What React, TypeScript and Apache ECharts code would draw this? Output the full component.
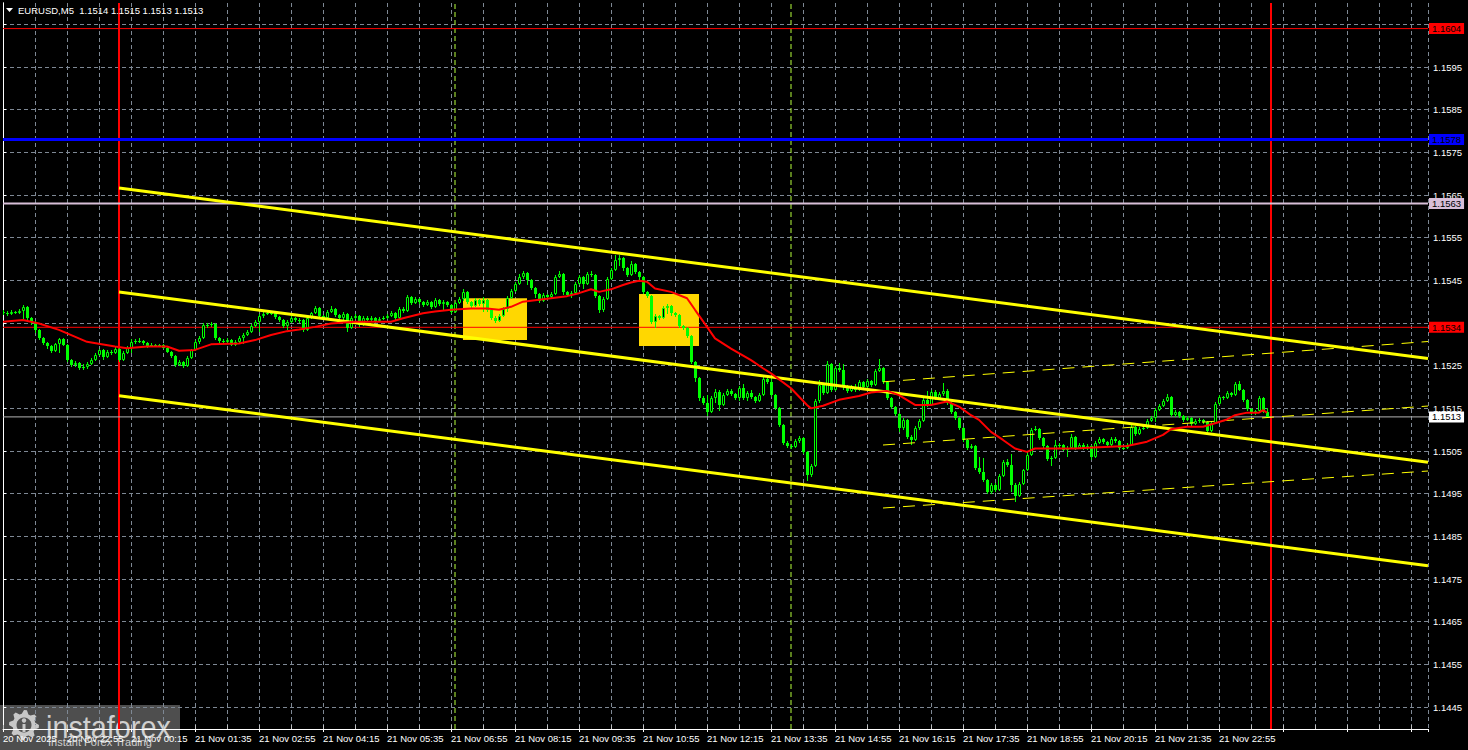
import React, { useEffect, useRef } from "react";
import * as echarts from "echarts";

// ---------- DATA (prices in pips relative to 1.1500) ----------
const BASE = 1.15;
const PIP = 0.0001;
// bar 0 = 20 Nov 21:35, M5 bars
const FIRST_OPEN = 37.5;
const closes = [
  37.3,37.1,37.6,37.3,37.8,38.7,36.2,35.2,33.4,31.5,
  30.3,29.6,28.4,30.1,31.3,29.9,26.3,25.2,25.6,24.5,
  24.7,25.4,26.3,27.5,28.7,27.0,28.2,28.0,28.9,26.3,
  28.0,29.1,30.6,30.8,30.8,30.3,29.6,29.9,29.6,29.9,
  29.1,28.2,27.3,25.2,25.9,24.9,26.8,28.7,30.6,31.5,
  34.5,34.5,34.8,31.5,30.8,30.6,31.0,29.9,30.6,31.5,
  32.2,32.9,34.3,35.2,36.6,37.1,37.3,37.3,36.4,35.7,
  34.3,35.2,36.2,35.7,35.7,33.4,36.2,37.3,38.5,36.6,
  36.2,37.6,38.3,36.9,36.2,37.1,33.8,36.2,36.6,34.5,
  36.2,35.7,36.2,35.5,35.9,36.2,36.6,37.3,36.2,38.3,
  37.8,41.1,39.7,40.6,39.9,39.2,39.9,38.8,40.4,39.4,
  39.9,39.2,37.6,39.7,40.6,42.3,39.9,39.0,40.4,39.4,
  40.4,38.0,36.2,35.5,36.6,38.3,40.9,42.5,44.1,45.8,
  46.7,45.1,43.2,41.8,40.2,41.6,41.1,41.8,45.8,46.5,
  42.3,41.6,42.0,44.1,45.8,44.1,46.5,46.2,41.3,38.0,
  40.6,45.4,47.4,49.8,50.2,47.9,46.2,48.8,46.9,45.8,
  42.3,41.3,35.2,36.6,36.2,38.5,39.0,37.3,36.9,34.3,
  33.8,32.0,25.9,22.1,17.4,16.3,14.1,17.4,18.8,15.8,
  18.1,19.1,18.4,17.4,19.8,17.4,18.6,17.7,16.7,18.1,
  21.9,21.2,18.1,15.1,11.1,6.9,6.2,5.9,7.4,8.1,
  4.8,-0.6,1.5,16.7,20.5,18.6,25.4,19.3,24.5,24.0,
  20.2,19.1,20.0,19.3,21.2,20.0,21.4,20.5,23.8,24.5,
  21.2,17.4,15.3,13.7,10.4,12.3,8.3,7.6,10.4,12.0,
  17.0,15.8,18.8,17.4,18.4,19.1,16.3,14.1,12.7,10.4,
  7.6,5.7,6.2,1.0,0.1,-1.8,-4.6,-2.9,-4.1,-0.8,
  2.4,1.7,-2.9,-5.5,-2.7,0.5,4.1,9.9,10.2,8.1,
  6.2,3.1,3.4,6.4,6.4,5.3,5.7,8.3,5.7,6.4,
  5.7,6.2,3.6,6.9,7.8,7.1,6.4,7.8,7.4,5.7,
  5.7,6.4,10.6,9.0,10.2,10.4,12.0,12.7,14.6,15.6,
  16.7,17.7,13.4,14.1,13.2,12.3,12.7,11.3,12.0,12.3,
  11.8,9.7,11.6,16.0,17.7,17.4,18.6,18.1,20.7,19.3,
  17.0,14.9,13.9,14.4,17.4,14.2,13.0,
];
const highs = [
  38.0,37.8,38.0,37.9,38.2,39.2,38.9,36.5,35.5,33.6,
  31.8,30.6,29.9,30.4,31.6,31.5,30.2,26.6,26.0,25.9,
  25.3,25.8,26.7,27.9,29.0,28.9,28.6,28.7,29.6,29.1,
  28.4,29.5,31.2,31.3,31.6,31.1,30.5,30.3,30.2,30.2,
  30.1,29.3,28.5,27.5,26.3,26.1,27.2,29.0,31.0,31.9,
  35.0,35.1,35.2,35.0,31.8,31.2,31.4,31.3,31.0,31.9,
  32.6,33.3,34.7,35.6,37.0,37.9,37.7,37.8,37.5,36.7,
  36.0,35.6,36.6,36.5,36.2,36.0,36.5,37.7,39.0,38.7,
  36.9,38.0,39.0,38.5,37.2,37.6,37.3,36.7,37.2,36.8,
  36.6,36.6,36.6,36.5,36.3,36.6,37.1,37.9,37.6,38.7,
  38.8,41.6,41.4,41.0,40.9,40.2,40.3,40.2,40.8,40.7,
  40.4,40.1,39.4,40.0,41.0,42.9,42.5,40.2,40.8,40.7,
  41.0,40.6,38.2,36.6,37.0,38.7,41.3,42.9,44.5,46.4,
  47.1,47.0,45.3,43.5,42.0,42.0,41.9,42.2,46.3,47.2,
  46.7,42.6,42.5,44.5,46.3,46.0,47.0,47.3,46.5,41.5,
  41.2,45.9,47.8,50.9,51.0,50.4,48.2,49.5,49.0,47.2,
  46.0,42.6,41.5,37.2,36.9,38.9,39.5,39.3,37.6,37.1,
  34.6,34.0,32.3,26.2,22.3,17.8,18.2,17.9,19.6,19.2,
  18.6,19.6,19.5,18.7,20.2,20.8,19.0,19.3,18.0,18.6,
  22.4,22.6,22.5,18.3,15.3,11.3,7.3,6.6,7.9,8.6,
  8.3,5.0,2.0,17.2,21.6,21.0,26.1,25.7,25.0,25.6,
  25.4,20.5,20.4,20.6,21.6,21.4,21.9,21.7,24.2,26.5,
  24.8,21.4,17.7,15.6,14.0,12.7,12.5,8.8,10.9,12.5,
  17.5,19.0,19.3,19.2,18.8,21.0,19.5,16.6,14.4,13.0,
  10.7,7.9,6.7,6.5,3.5,3.3,-1.5,-2.4,-2.6,-0.4,
  2.8,3.2,4.4,-2.5,-2.3,0.9,4.5,10.5,10.8,10.5,
  8.4,6.4,3.9,7.5,7.0,6.7,6.2,9.0,8.6,6.9,
  6.8,6.7,6.5,7.3,8.2,8.1,7.4,8.2,8.4,7.6,
  6.2,6.9,11.0,10.9,10.6,10.9,12.4,13.1,15.0,16.1,
  17.1,18.3,17.9,14.6,14.4,13.5,13.1,13.0,12.4,12.8,
  12.6,12.0,12.0,16.5,18.1,18.0,19.1,18.9,21.1,21.5,
  19.5,17.2,15.2,14.7,17.9,17.7,15.0,
];
const lows = [
  36.8,36.7,36.9,37.0,37.1,36.0,35.8,34.5,32.6,31.0,
  29.9,29.0,28.0,28.2,28.0,29.5,25.8,24.6,24.8,24.0,
  24.1,24.3,25.1,26.0,27.2,26.4,26.7,27.6,27.7,25.9,
  26.0,27.7,28.0,30.2,30.4,29.9,29.2,29.4,29.3,29.4,
  28.8,27.9,26.9,24.8,24.9,24.4,24.7,26.5,28.4,30.2,
  31.3,33.9,34.0,31.0,30.4,30.2,30.4,29.6,29.6,30.3,
  30.0,31.9,32.6,34.0,33.0,36.2,36.9,36.9,36.0,35.3,
  33.9,33.3,34.9,35.2,35.0,33.0,33.2,36.0,37.0,36.2,
  35.8,36.0,37.3,36.5,35.8,35.6,33.0,33.6,35.9,34.0,
  34.3,35.3,35.3,35.1,35.2,35.6,35.9,36.3,35.8,36.0,
  37.3,37.6,39.2,39.4,39.5,38.8,38.9,38.3,38.6,39.0,
  37.9,38.8,37.0,37.4,39.4,40.2,39.5,38.6,38.8,39.0,
  37.5,37.6,35.7,35.0,35.3,36.3,37.6,40.6,42.2,43.8,
  45.4,44.0,42.8,40.9,39.8,40.0,40.6,40.8,41.5,45.5,
  41.6,41.1,40.8,41.8,43.8,42.9,43.9,45.7,40.9,37.3,
  37.6,40.3,45.1,47.2,48.3,47.2,45.8,46.0,46.4,45.0,
  41.8,40.8,34.8,33.8,35.6,36.0,37.0,36.6,36.4,33.9,
  33.4,31.6,25.3,21.2,16.8,15.7,13.2,13.8,16.3,14.5,
  15.5,17.8,17.9,16.9,16.7,17.0,16.8,17.3,16.3,16.4,
  17.8,20.8,17.7,14.6,10.6,6.4,5.6,5.5,5.6,7.0,
  4.3,-2.0,-1.0,1.2,16.2,18.2,18.3,18.8,19.0,23.6,
  19.3,18.6,18.8,18.9,19.0,19.6,19.8,20.0,20.3,23.5,
  20.8,16.9,14.9,13.3,9.5,10.0,7.8,6.3,7.3,10.0,
  11.8,15.4,15.5,17.0,17.1,18.0,15.9,13.6,12.2,9.9,
  7.1,5.3,5.4,0.5,-0.4,-2.3,-5.0,-5.1,-4.6,-4.3,
  -1.0,1.3,-4.6,-7.0,-5.7,-2.9,0.3,3.9,9.6,7.5,
  5.8,2.7,1.5,3.2,5.6,4.9,3.5,5.4,5.3,5.4,
  5.2,5.3,2.9,3.4,6.6,6.7,6.0,6.1,7.0,5.2,
  5.2,5.4,6.2,8.6,8.8,9.9,10.2,11.7,11.8,14.3,
  15.3,16.4,12.9,13.0,12.8,11.9,12.0,10.9,11.0,11.6,
  11.4,9.2,9.4,11.4,15.7,17.0,17.1,17.7,17.9,19.0,
  16.6,14.4,13.5,13.5,14.2,14.0,13.0,
];
// moving average: [bar, pips]
const maPoints = [
  [0,35.3],[5,35.7],[9,34.9],[14,33.4],[21,30.6],[28,29.5],[31,29.1],[36,29.5],[41,29.5],[44,28.5],
  [48,28.7],[52,30.0],[59,30.2],[63,31.0],[67,32.2],[71,33.1],[74,33.5],[78,34.1],[82,34.9],[88,35.3],
  [97,35.3],[100,36.1],[105,37.3],[108,37.7],[112,38.1],[117,38.4],[121,38.4],[124,38.1],[127,38.8],[130,40.0],
  [135,40.6],[141,41.3],[144,42.0],[147,42.9],[149,42.3],[152,42.9],[155,43.9],[157,44.5],[159,44.9],[161,44.7],
  [163,43.1],[167,42.3],[171,40.8],[173,38.1],[176,34.1],[178,31.4],[182,29.0],[187,26.3],[190,24.4],[192,23.2],
  [197,19.7],[201,15.8],[202,15.0],[205,15.6],[209,17.0],[214,17.9],[217,18.7],[221,19.1],[224,18.1],[228,15.8],
  [232,15.8],[236,16.6],[239,15.4],[242,13.4],[244,12.3],[247,9.5],[250,7.6],[253,5.6],[256,4.8],[258,5.6],
  [262,5.6],[268,5.6],[274,5.9],[281,6.2],[286,7.2],[290,8.8],[292,10.1],[296,10.7],[300,10.7],[303,11.5],
  [306,12.4],[308,13.4],[311,14.0],[314,14.0],[315,14.6],[316,14.0],
];
// channels: [startBar, startPips, endBar, endPips]
const channelLines = [
  [29, 66.64, 356.25, 26.69],
  [29, 42.27, 356.25, 2.36],
  [29, 17.97, 356.25, -21.87],
];
const dashedLines = [
  [220, 21.22, 356.25, 30.67],
  [220, 6.41, 356.25, 15.55],
  [220, -8.35, 356.25, 0.32],
];
// yellow boxes: [fromBar, topPips, toBar, bottomPips]
const boxes = [
  [115, 40.8, 131, 31.0],
  [159, 41.8, 174, 29.6],
];
// horizontal levels
const levels = [
  { price: 1.1604, color: "#ff0000", width: 1, bg: "#ff0000", text: "#000000" },
  { price: 1.1578, color: "#0000ff", width: 3, bg: "#0000ff", text: "#000000" },
  { price: 1.1563, color: "#d8bfd8", width: 2, bg: "#d8bfd8", text: "#000000" },
  { price: 1.1534, color: "#ff0000", width: 1, bg: "#ff0000", text: "#000000" },
  { price: 1.1513, color: "#b4b4b4", width: 1, bg: "#ffffff", text: "#000000" },
];
const daySeparators = [29, 317];
const eventLines = [113, 197];
// grid levels (every 10 pips) and the price labels visible on the scale
const priceTicks = [1.1445,1.1455,1.1465,1.1475,1.1485,1.1495,1.1505,1.1515,1.1525,1.1535,1.1545,1.1555,1.1565,1.1575,1.1585,1.1595,1.1605];
const priceLabels = [1.1445,1.1455,1.1465,1.1475,1.1485,1.1495,1.1505,1.1515,1.1525,1.1545,1.1555,1.1565,1.1575,1.1585,1.1595];
const timeLabels = ["20 Nov 2025","20 Nov 22:55","21 Nov 00:15","21 Nov 01:35","21 Nov 02:55","21 Nov 04:15","21 Nov 05:35","21 Nov 06:55","21 Nov 08:15","21 Nov 09:35","21 Nov 10:55","21 Nov 12:15","21 Nov 13:35","21 Nov 14:55","21 Nov 16:15","21 Nov 17:35","21 Nov 18:55","21 Nov 20:15","21 Nov 21:35","21 Nov 22:55"];
const TITLE = "EURUSD,M5  1.1514 1.1515 1.1513 1.1513";

const Y_MIN = 1.143986;
const Y_MAX = 1.161;
const X_MAX = 356.25;
const LIME = "#00ff00";
const FONT = '"Liberation Sans", Arial, sans-serif';

const px = (p: number) => +(BASE + p * PIP).toFixed(6);

function buildOption() {
  const candles = closes.map((c, i) => [
    i,
    px(i === 0 ? FIRST_OPEN : closes[i - 1]),
    px(c),
    px(lows[i]),
    px(highs[i]),
  ]);

  const gear: number[][] = [];
  const gx = 24, gy = 725, teeth = 8;
  for (let k = 0; k < teeth * 4; k++) {
    const a = (k / (teeth * 4)) * Math.PI * 2;
    const r = k % 4 < 2 ? 15 : 11.5;
    gear.push([gx + r * Math.cos(a), gy + r * Math.sin(a)]);
  }

  const lineSeries = (name: string, pts: number[], width: number, dashed: boolean) => ({
    type: "line",
    name,
    data: [
      [pts[0], px(pts[1])],
      [pts[2], px(pts[3])],
    ],
    showSymbol: false,
    symbol: "none",
    clip: true,
    silent: true,
    z: 5,
    lineStyle: { color: "#ffff00", width, type: dashed ? [12, 8] : "solid" },
  });

  const vLine = (bar: number, color: string, width: number, type: any) => ({
    type: "line",
    data: [
      [bar, Y_MIN],
      [bar, Y_MAX],
    ],
    symbol: "none",
    showSymbol: false,
    silent: true,
    clip: true,
    z: 2,
    lineStyle: { color, width, type },
  });

  const levelSeries = levels.map((l) => ({
    type: "line",
    data: [
      [0, l.price],
      [X_MAX, l.price],
    ],
    symbol: "none",
    showSymbol: false,
    silent: true,
    clip: false,
    z: 2,
    lineStyle: { color: l.color, width: l.width, type: "solid" },
    endLabel: {
      show: true,
      formatter: () => l.price.toFixed(4),
      distance: 1,
      color: l.text,
      backgroundColor: l.bg,
      padding: [1, 3, 0, 3],
      fontFamily: FONT,
      fontSize: 9.5,
      lineHeight: 10,
    },
  }));

  return {
    animation: false,
    backgroundColor: "#000000",
    grid: { left: 3, right: 40, top: 3, bottom: 21 },
    xAxis: [
      {
        type: "value",
        min: 0,
        max: X_MAX,
        interval: 8,
        axisLine: { show: true, lineStyle: { color: "#ffffff", width: 1 } },
        axisTick: { show: true, inside: true, length: 4, lineStyle: { color: "#bfbfbf" } },
        splitLine: { show: true, lineStyle: { color: "#7e8894", type: [4, 3], width: 1 } },
        axisLabel: {
          show: true,
          color: "#ffffff",
          fontFamily: FONT,
          fontSize: 9.5,
          align: "left",
          margin: 4,
          showMaxLabel: false,
          hideOverlap: false,
          formatter: (v: number) => {
            const k = v / 16;
            return Number.isInteger(k) && k < timeLabels.length ? timeLabels[k] : "";
          },
        },
      },
      {
        type: "value",
        min: 0,
        max: X_MAX,
        interval: 16,
        position: "bottom",
        axisLine: { show: false },
        axisTick: { show: true, inside: false, length: 3, lineStyle: { color: "#ffffff" } },
        splitLine: { show: false },
        axisLabel: { show: false },
      },
    ],
    yAxis: [
      {
        type: "value",
        position: "right",
        min: Y_MIN,
        max: Y_MAX,
        axisLine: { show: true, lineStyle: { color: "#ffffff", width: 1 } },
        axisTick: { show: true, inside: false, length: 3, customValues: priceTicks, lineStyle: { color: "#ffffff" } },
        splitLine: { show: true, lineStyle: { color: "#7e8894", type: [4, 3], width: 1 } },
        axisLabel: {
          show: true,
          customValues: priceLabels,
          color: "#ffffff",
          fontFamily: FONT,
          fontSize: 9.5,
          margin: 5,
          formatter: (v: number) => v.toFixed(4),
        },
      },
      {
        type: "value",
        position: "left",
        min: Y_MIN,
        max: Y_MAX,
        axisLine: { show: true, lineStyle: { color: "#ffffff", width: 1 } },
        axisTick: { show: false },
        splitLine: { show: false },
        axisLabel: { show: false },
      },
    ],
    series: [
      {
        type: "line",
        name: "boxes",
        data: [[0, 1.15]],
        symbol: "none",
        lineStyle: { opacity: 0 },
        silent: true,
        z: 1,
        markArea: {
          silent: true,
          itemStyle: { color: "#ffd700", opacity: 1 },
          data: boxes.map((b) => [{ coord: [b[0], px(b[1])] }, { coord: [b[2], px(b[3])] }]),
        },
      },
      ...daySeparators.map((b) => vLine(b, "#ff0000", 2, "solid")),
      ...eventLines.map((b) => vLine(b, "#b6ff3c", 1, [5, 3])),
      ...levelSeries,
      {
        type: "custom",
        name: "candles",
        data: candles,
        clip: true,
        silent: true,
        z: 3,
        renderItem: (_params: any, api: any) => {
          const i = api.value(0);
          const o = api.value(1);
          const c = api.value(2);
          const l = api.value(3);
          const h = api.value(4);
          const [cx, yo] = api.coord([i, o]);
          const yc = api.coord([i, c])[1];
          const yl = api.coord([i, l])[1];
          const yh = api.coord([i, h])[1];
          const x = Math.round(cx);
          const top = Math.round(Math.min(yo, yc));
          let bot = Math.round(Math.max(yo, yc));
          if (bot - top < 1) bot = top + 1;
          const wt = Math.round(Math.min(yh, top));
          const wb = Math.round(Math.max(yl, bot));
          const bull = c > o;
          const children: any[] = [
            { type: "rect", shape: { x: x, y: wt, width: 1, height: Math.max(1, wb - wt) }, style: { fill: LIME } },
          ];
          if (bull && bot - top >= 2) {
            children.push({
              type: "rect",
              shape: { x: x - 0.5, y: top + 0.5, width: 2, height: bot - top - 1 },
              style: { fill: "#000000", stroke: LIME, lineWidth: 1 },
            });
          } else {
            children.push({ type: "rect", shape: { x: x - 1, y: top, width: 3, height: bot - top }, style: { fill: LIME } });
          }
          return { type: "group", children };
        },
      },
      ...channelLines.map((c, k) => lineSeries("channel" + k, c, 3, false)),
      ...dashedLines.map((c, k) => lineSeries("dash" + k, c, 1, true)),
      {
        type: "line",
        name: "MA",
        data: maPoints.map((p) => [p[0], px(p[1])]),
        showSymbol: false,
        symbol: "none",
        silent: true,
        z: 6,
        lineStyle: { color: "#ff0000", width: 2 },
      },
    ],
    graphic: [
      {
        type: "polygon",
        z: 50,
        shape: { points: [[6, 8], [13, 8], [9.5, 12]] },
        style: { fill: "#ffffff" },
      },
      {
        type: "text",
        z: 50,
        x: 18,
        y: 10,
        style: { text: TITLE, fill: "#ffffff", font: '9.5px "Liberation Sans", Arial, sans-serif', verticalAlign: "middle" },
      },
      {
        type: "group",
        z: 100,
        children: [
          { type: "rect", shape: { x: 0, y: 705, width: 180, height: 45 }, style: { fill: "rgba(92,92,92,0.85)" } },
          { type: "polygon", shape: { points: gear }, style: { fill: "#c8c8c8" } },
          { type: "circle", shape: { cx: 24, cy: 725, r: 7.5 }, style: { fill: "#555555" } },
          { type: "circle", shape: { cx: 24, cy: 720.5, r: 2.2 }, style: { fill: "#c8c8c8" } },
          { type: "rect", shape: { x: 22.5, y: 724, width: 3, height: 8 }, style: { fill: "#c8c8c8" } },
          {
            type: "text",
            x: 46,
            y: 726,
            scaleX: 0.9,
            style: { text: "instaforex", fill: "#cfcfcf", font: '32px "Liberation Sans", Arial, sans-serif', verticalAlign: "middle" },
          },
          {
            type: "text",
            x: 48,
            y: 742,
            style: { text: "Instant Forex Trading", fill: "#cfcfcf", font: '11px "Liberation Sans", Arial, sans-serif', verticalAlign: "middle" },
          },
        ],
      },
    ],
  };
}

export default function App() {
  const ref = useRef<HTMLDivElement>(null);
  useEffect(() => {
    document.body.style.margin = "0";
    document.body.style.background = "#000";
    if (!ref.current) return;
    const chart = echarts.init(ref.current, undefined, { renderer: "svg" });
    chart.setOption(buildOption() as any);
    return () => chart.dispose();
  }, []);
  return <div ref={ref} style={{ width: 1468, height: 750, background: "#000" }} />;
}
